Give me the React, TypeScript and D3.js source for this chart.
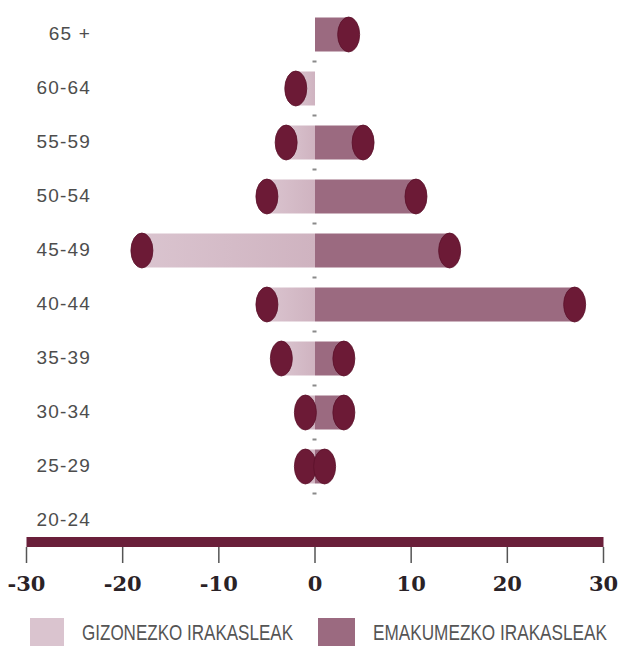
import * as React from "react";
import * as d3 from "d3";

// age groups, top to bottom
const AGES = ["65 +", "60-64", "55-59", "50-54", "45-49", "40-44", "35-39", "30-34", "25-29", "20-24"];
// men (left, negative) and women (right)
const MEN = [0, -2, -3, -5, -18, -5, -3.5, -1, -1, 0];
const WOMEN = [3.5, 0, 5, 10.5, 14, 27, 3, 3, 1, 0];
const TICKS = [-30, -20, -10, 0, 10, 20, 30];
const LEGEND = ["GIZONEZKO IRAKASLEAK", "EMAKUMEZKO IRAKASLEAK"];

const W = 619;
const H = 646;
const C = { men: "#dac4cf", menDark: "#cfb3c0", women: "#9b6a80", cap: "#6c1a36", axis: "#6a1f3a", text: "#4d4d4d" };

export default function App() {
  const ref = React.useRef<SVGSVGElement | null>(null);

  React.useEffect(() => {
    if (!ref.current) return;
    const svg = d3.select(ref.current);
    svg.selectAll("*").remove();

    const x = d3.scaleLinear().domain([-30, 30]).range([26.5, 603.5]);
    const y = d3.scalePoint<string>().domain(AGES).range([34.5, 520.5]);
    const barH = 34;

    const defs = svg.append("defs");
    const gm = defs.append("linearGradient").attr("id", "menGrad");
    gm.append("stop").attr("offset", "0%").attr("stop-color", C.men);
    gm.append("stop").attr("offset", "100%").attr("stop-color", C.menDark);

    // row labels
    svg
      .append("g")
      .selectAll("text")
      .data(AGES)
      .join("text")
      .attr("x", 91)
      .attr("y", (d) => (y(d) ?? 0) + 5)
      .attr("text-anchor", "end")
      .attr("font-family", "Liberation Sans, Arial, sans-serif")
      .attr("font-size", 19)
      .attr("letter-spacing", 1.2)
      .attr("fill", C.text)
      .text((d) => d);

    // small dashes between rows
    svg
      .append("g")
      .selectAll("rect")
      .data(AGES.slice(1))
      .join("rect")
      .attr("x", x(0) - 2.5)
      .attr("y", (d) => (y(d) ?? 0) - 27 - 1)
      .attr("width", 4)
      .attr("height", 2)
      .attr("fill", "#8a8a8a");

    const rows = svg
      .append("g")
      .selectAll("g")
      .data(AGES.map((a, i) => ({ age: a, men: MEN[i], women: WOMEN[i] })))
      .join("g")
      .attr("transform", (d) => `translate(0,${y(d.age)})`);

    rows
      .filter((d) => d.men !== 0)
      .append("rect")
      .attr("x", (d) => x(d.men))
      .attr("y", -barH / 2)
      .attr("width", (d) => x(0) - x(d.men))
      .attr("height", barH)
      .attr("fill", "url(#menGrad)");

    rows
      .filter((d) => d.women !== 0)
      .append("rect")
      .attr("x", x(0))
      .attr("y", -barH / 2)
      .attr("width", (d) => x(d.women) - x(0))
      .attr("height", barH)
      .attr("fill", C.women);

    const caps = (key: "men" | "women") =>
      rows
        .filter((d) => d[key] !== 0)
        .append("ellipse")
        .attr("cx", (d) => x(d[key]))
        .attr("cy", 0)
        .attr("rx", 11)
        .attr("ry", 17.5)
        .attr("fill", C.cap)
        .attr("stroke", "#5a1029")
        .attr("stroke-width", 0.8);
    caps("men");
    caps("women");

    // axis
    const axisY = 537;
    svg
      .append("rect")
      .attr("x", x(-30))
      .attr("y", axisY)
      .attr("width", x(30) - x(-30))
      .attr("height", 10)
      .attr("fill", C.axis);

    const ticks = svg.append("g").selectAll("g").data(TICKS).join("g").attr("transform", (d) => `translate(${x(d)},0)`);
    ticks
      .append("line")
      .attr("y1", axisY + 10)
      .attr("y2", 563)
      .attr("stroke", "#555")
      .attr("stroke-width", 1.5);
    ticks
      .append("text")
      .attr("y", 591)
      .attr("text-anchor", "middle")
      .attr("font-family", "DejaVu Serif, serif")
      .attr("font-weight", "bold")
      .attr("font-size", 21)
      .attr("fill", "#2a2226")
      .text((d) => String(d));

    // legend (condensed look: small font stretched vertically)
    const legendItems = [
      { label: LEGEND[0], color: C.men, x: 30, w: 34, tx: 82, tw: 211 },
      { label: LEGEND[1], color: C.women, x: 318, w: 37, tx: 373, tw: 234 },
    ];
    const lg = svg.append("g").selectAll("g").data(legendItems).join("g");
    lg.append("rect")
      .attr("x", (d) => d.x)
      .attr("y", 618)
      .attr("width", (d) => d.w)
      .attr("height", 28)
      .attr("fill", (d) => d.color);
    lg.append("text")
      .attr("transform", (d) => `translate(${d.tx},640) scale(1,1.3)`)
      .attr("font-family", "Liberation Sans, Arial, sans-serif")
      .attr("font-size", 16.5)
      .attr("textLength", (d) => d.tw)
      .attr("lengthAdjust", "spacingAndGlyphs")
      .attr("fill", "#555")
      .text((d) => d.label);
  }, []);

  return <svg ref={ref} width={W} height={H} style={{ position: "absolute", left: 0, top: 0, background: "#fff" }} />;
}
